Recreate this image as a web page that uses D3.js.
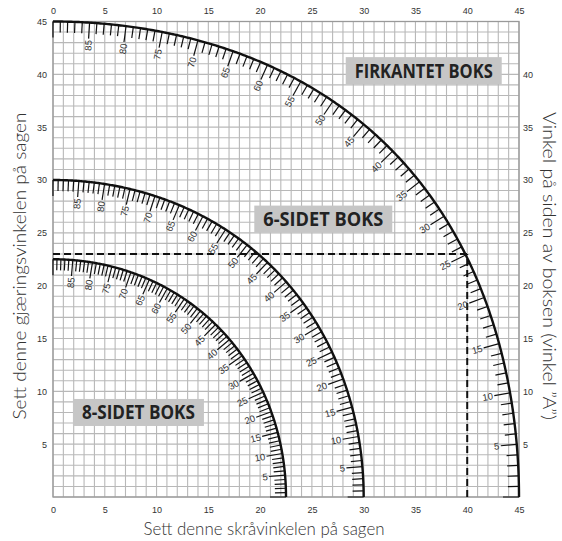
<!DOCTYPE html>
<html>
<head>
<meta charset="utf-8">
<script src="https://cdn.jsdelivr.net/npm/d3@7"></script>
<style>
html,body{margin:0;padding:0;background:#fff;}
svg{display:block;}
</style>
</head>
<body>
<svg id="chart" width="562" height="541"></svg>
<script>
// ---- data ----
const boxSides = [4, 6, 8];
const boxNames = ["FIRKANTET BOKS", "6-SIDET BOKS", "8-SIDET BOKS"];
const sideAngleLabels = [5, 10, 15, 20, 25, 30, 35, 40, 45, 50, 55, 60, 65, 70, 75, 80, 85];
const axisTicksX = [0, 5, 10, 15, 20, 25, 30, 35, 40, 45];
const axisTicksLeft = [5, 10, 15, 20, 25, 30, 35, 40, 45];
const axisTicksRight = [5, 10, 15, 20, 25, 30, 35, 40];
const exampleBevel = [40];
const exampleMiter = [23];
const xTitle = "Sett denne skråvinkelen på sagen";
const yTitle = "Sett denne gjæringsvinkelen på sagen";
const y2Title = "Vinkel på siden av boksen (vinkel ”A”)";

// ---- layout ----
const W = 562, H = 541;
const plot = {left: 53, right: 519, top: 21.5, bottom: 497};
const boxLayout = [
  {cx: 35.8, cy: 40.35, w: 156, h: 27},
  {cx: 26.1, cy: 26.3, w: 138, h: 27},
  {cx: 8.25, cy: 8.0, w: 131, h: 27}
];

const svg = d3.select("#chart");
const xs = d3.scaleLinear().domain([0, 45]).range([plot.left, plot.right]);
const ys = d3.scaleLinear().domain([0, 45]).range([plot.bottom, plot.top]);
const rad = Math.PI / 180;

// compound miter geometry: side angle A -> (bevel, miter)
function bevelMiter(n, A) {
  const h = 180 / n * rad;
  const a = A * rad;
  const b = Math.asin(Math.cos(a) * Math.sin(h)) / rad;
  const m = Math.atan(Math.sin(a) * Math.tan(h)) / rad;
  return [b, m];
}

// ---- grid ----
const grid = svg.append("g");
const units = d3.range(0, 46);
grid.selectAll("line.v").data(units).join("line")
  .attr("x1", d => xs(d)).attr("x2", d => xs(d))
  .attr("y1", ys(0)).attr("y2", ys(45))
  .attr("stroke", "#b8b8b8").attr("stroke-width", 1.1);
grid.selectAll("line.h").data(units).join("line")
  .attr("y1", d => ys(d)).attr("y2", d => ys(d))
  .attr("x1", xs(0)).attr("x2", xs(45))
  .attr("stroke", "#b8b8b8").attr("stroke-width", 1.1);
grid.append("rect")
  .attr("x", xs(0)).attr("y", ys(45))
  .attr("width", xs(45) - xs(0)).attr("height", ys(0) - ys(45))
  .attr("fill", "none").attr("stroke", "#999").attr("stroke-width", 1.3);

// ---- axis numbers ----
const numFont = "Liberation Sans, Arial, sans-serif";
const axTop = d3.axisTop(xs).tickValues(axisTicksX).tickSize(0).tickPadding(6);
const axBottom = d3.axisBottom(xs).tickValues(axisTicksX).tickSize(0).tickPadding(8);
const axLeft = d3.axisLeft(ys).tickValues(axisTicksLeft).tickSize(0).tickPadding(6);
const axRight = d3.axisRight(ys).tickValues(axisTicksRight).tickSize(0).tickPadding(4);
function styleAxis(g) {
  g.select(".domain").remove();
  g.selectAll("text").attr("font-family", numFont).attr("font-size", 9).attr("fill", "#333");
}
svg.append("g").attr("transform", `translate(0,${plot.top - 2})`).call(axTop).call(styleAxis);
svg.append("g").attr("transform", `translate(0,${plot.bottom + 2})`).call(axBottom).call(styleAxis);
svg.append("g").attr("transform", `translate(${plot.left},0)`).call(axLeft).call(styleAxis);
svg.append("g").attr("transform", `translate(${plot.right},0)`).call(axRight).call(styleAxis);

// ---- example dashed lines ----
exampleBevel.forEach((bv, i) => {
  const m = exampleMiter[i];
  svg.append("line").attr("x1", xs(0)).attr("x2", xs(bv)).attr("y1", ys(m)).attr("y2", ys(m))
    .attr("stroke", "#111").attr("stroke-width", 2).attr("stroke-dasharray", "7,4");
  svg.append("line").attr("x1", xs(bv)).attr("x2", xs(bv)).attr("y1", ys(0)).attr("y2", ys(m))
    .attr("stroke", "#111").attr("stroke-width", 2).attr("stroke-dasharray", "7,4");
});

// ---- name boxes ----
boxNames.forEach((name, i) => {
  const L = boxLayout[i];
  const cx = xs(L.cx), cy = ys(L.cy);
  svg.append("rect").attr("x", cx - L.w / 2).attr("y", cy - L.h / 2)
    .attr("width", L.w).attr("height", L.h).attr("fill", "#c6c6c6");
  svg.append("text").attr("x", cx).attr("y", cy + 7)
    .attr("text-anchor", "middle")
    .attr("font-family", "Open Sans, sans-serif").attr("font-weight", 700)
    .attr("font-size", 20).attr("fill", "#222")
    .attr("textLength", L.w - 18).attr("lengthAdjust", "spacingAndGlyphs")
    .text(name);
});

// ---- arcs with scales ----
const line = d3.line().x(d => xs(d[0])).y(d => ys(d[1]));
const arcSteps = d3.range(0, 90.001, 0.25);
const origin = [xs(0), ys(0)];

boxSides.forEach(n => {
  const g = svg.append("g");
  g.append("path").datum(arcSteps.map(A => bevelMiter(n, A)))
    .attr("d", line).attr("fill", "none").attr("stroke", "#111").attr("stroke-width", 2.4);

  const tickAngles = d3.range(0, 91, 1);
  function geom(A) {
    const p = bevelMiter(n, A);
    const px = xs(p[0]), py = ys(p[1]);
    const p1 = bevelMiter(n, Math.max(0, A - 0.05));
    const p2 = bevelMiter(n, Math.min(90, A + 0.05));
    const dx = xs(p2[0]) - xs(p1[0]), dy = ys(p2[1]) - ys(p1[1]);
    const len = Math.hypot(dx, dy);
    let nx = -dy / len, ny = dx / len;
    if (nx * (origin[0] - px) + ny * (origin[1] - py) < 0) { nx = -nx; ny = -ny; }
    return {px, py, nx, ny};
  }
  const minorLen = 11, majorLen = 16;
  g.selectAll("line.t").data(tickAngles).join("line")
    .attr("x1", A => geom(A).px).attr("y1", A => geom(A).py)
    .attr("x2", A => { const q = geom(A); return q.px + q.nx * (A % 5 === 0 ? majorLen : minorLen); })
    .attr("y2", A => { const q = geom(A); return q.py + q.ny * (A % 5 === 0 ? majorLen : minorLen); })
    .attr("stroke", "#111").attr("stroke-width", 1.2);

  g.selectAll("text.l").data(sideAngleLabels).join("text")
    .attr("transform", A => {
      const q = geom(A);
      const tx = q.px + q.nx * (majorLen + 1.5), ty = q.py + q.ny * (majorLen + 1.5);
      const ang = Math.atan2(-q.ny, -q.nx) / rad;
      return `translate(${tx},${ty}) rotate(${ang})`;
    })
    .attr("text-anchor", "end").attr("dy", "0.35em")
    .attr("font-family", numFont).attr("font-size", 9.5).attr("fill", "#333")
    .text(A => A);
});

// ---- titles ----
const titleFont = "Lato, Open Sans, sans-serif";
function title(sel, len) {
  return sel.attr("text-anchor", "middle")
    .attr("font-family", titleFont).attr("font-weight", 300).attr("font-size", 18.5).attr("fill", "#333")
    .attr("textLength", len).attr("lengthAdjust", "spacingAndGlyphs");
}
title(svg.append("text").attr("x", 264).attr("y", 535), 241).text(xTitle);
title(svg.append("text").attr("transform", "translate(26,266) rotate(-90)"), 307).text(yTitle);
title(svg.append("text").attr("transform", "translate(543,266) rotate(90)"), 308).text(y2Title);
</script>
</body>
</html>
